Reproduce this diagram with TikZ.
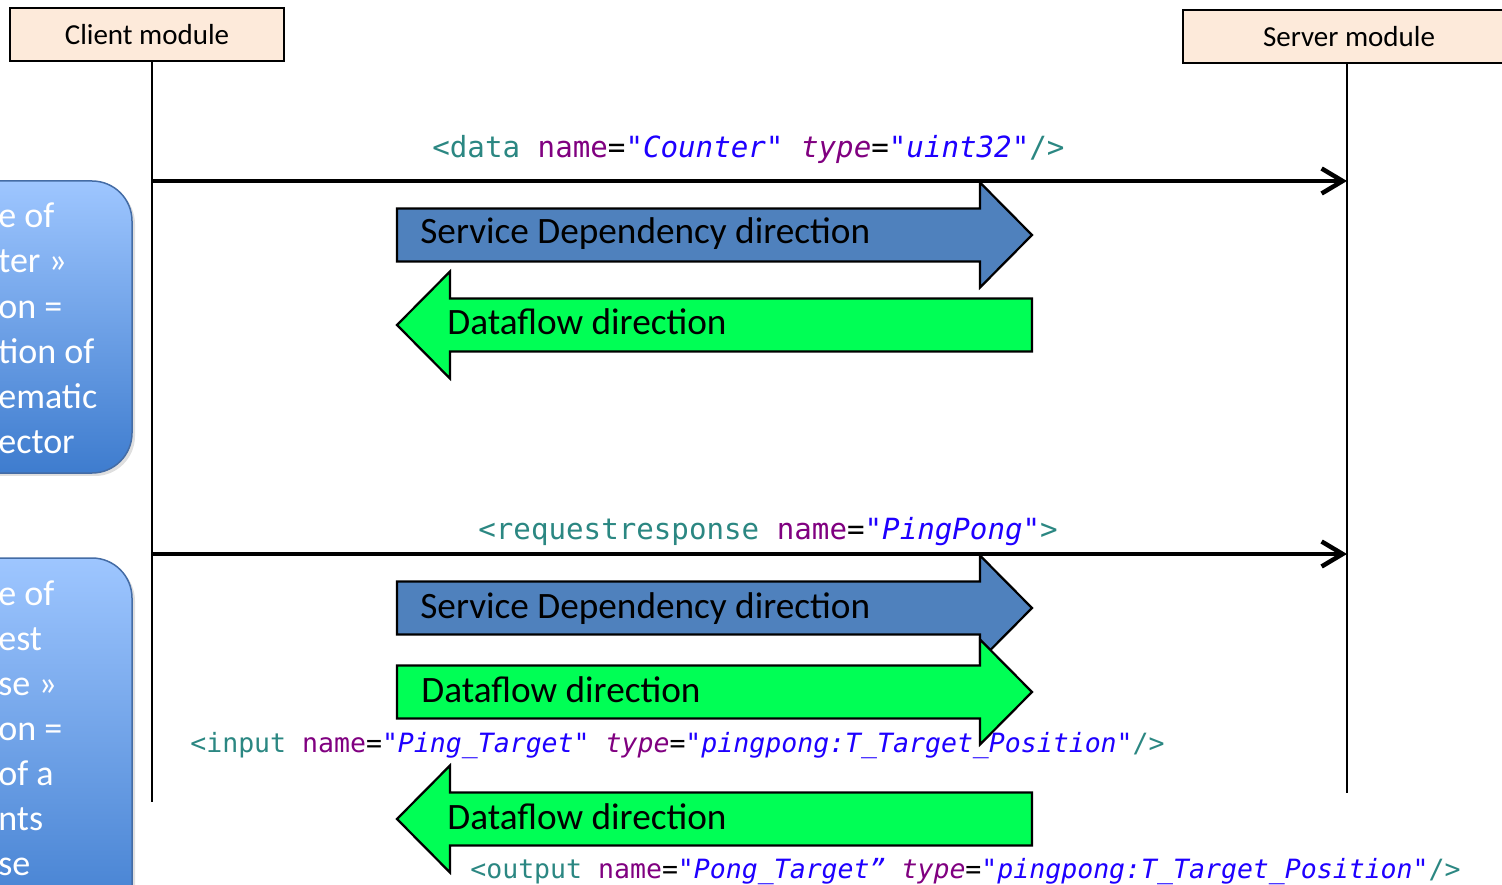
\documentclass[tikz,border=0pt]{standalone}
\usepackage{fontspec}
\setmainfont{Carlito}
\newfontfamily\xmlfont{DejaVu Sans Mono}
\usetikzlibrary{arrows.meta,shadows}

\definecolor{headfill}{RGB}{253,234,218}
\definecolor{sdblue}{RGB}{79,129,189}
\definecolor{dfgreen}{RGB}{0,255,85}
\definecolor{notetop}{RGB}{158,198,255}
\definecolor{notebot}{RGB}{62,124,206}
\definecolor{noteline}{RGB}{68,108,165}
\definecolor{xmltag}{RGB}{43,135,130}
\definecolor{xmlattr}{RGB}{128,0,128}
\definecolor{xmlval}{RGB}{30,0,255}

\newcommand\xtag[1]{\textcolor{xmltag}{#1}}
\newcommand\xattr[1]{\textcolor{xmlattr}{#1}}
\newcommand\xval[1]{\textcolor{xmlval}{\itshape #1}}

% block arrows: #1 = centre y, #2 = fill
\newcommand\rblock[2]{%
  \filldraw[blk,fill=#2] (397,#1-26.5) -- (980,#1-26.5) -- (980,#1-52.5) -- (1032,#1)
    -- (980,#1+52.5) -- (980,#1+26.5) -- (397,#1+26.5) -- cycle;}
\newcommand\lblock[2]{%
  \filldraw[blk,fill=#2] (1032,#1-26.5) -- (450,#1-26.5) -- (450,#1-53.5) -- (397,#1)
    -- (450,#1+53.5) -- (450,#1+26.5) -- (1032,#1+26.5) -- cycle;}

\begin{document}
\begin{tikzpicture}[x=0.02cm,y=-0.02cm,
  modbox/.style={draw,line width=0.04cm,fill=headfill,minimum height=1.06cm,
    inner sep=0pt,font=\fontsize{16.5}{20}\selectfont},
  life/.style={line width=0.04cm},
  msg/.style={line width=0.09cm,-{Straight Barb[length=0.42cm,width=0.5cm]}},
  note/.style={draw=noteline,line width=0.03cm,rounded corners=0.8cm,
    top color=notetop,bottom color=notebot,
    drop shadow={shadow xshift=0.06cm,shadow yshift=-0.06cm,opacity=0.25}},
  notetxt/.style={text=white,anchor=base west,inner sep=0pt,
    font=\fontsize{20.5}{24}\selectfont},
  blk/.style={draw=black,line width=0.045cm},
  lbl/.style={anchor=base west,inner sep=0pt,font=\fontsize{21.2}{25}\selectfont},
  xml/.style={anchor=base west,inner sep=0pt,font=\xmlfont\fontsize{16.6}{20}\selectfont},
  xmlsmall/.style={xml,font=\xmlfont\fontsize{15.1}{18}\selectfont}]

  \useasboundingbox (0,0) rectangle (1502,885);

  % ================= 模块框与生命线 =================
  \node[modbox,minimum width=5.48cm] (client) at (147,34.5) {Client module};
  \node[modbox,minimum width=6.64cm] (server) at (1349,36.5) {Server module};

  \coordinate (cl) at (152,802);
  \coordinate (sl) at (1347,793);
  \draw[life] (cl |- client.south) -- (cl);
  \draw[life] (sl |- server.south) -- (sl);

  % ================= 左侧说明框 =================
  \path[note] (-60,181) rectangle (132,473);
  \path[note] (-60,558) rectangle (132,940);
  \foreach \t [count=\i] in {e of,ter »,on =,tion of,ematic,ector}
    \node[notetxt] (na\i) at (-2,228+45*\i-45) {\t};
  \foreach \t [count=\i] in {e of,est,se »,on =,of a,nts,se}
    \node[notetxt] (nb\i) at (-2,605+45*\i-45) {\t};

  % ================= 消息 1: data =================
  \coordinate (m1a) at (152,181);
  \coordinate (m1b) at (1347,181);
  \draw[msg] (m1a) -- (m1b);
  \node[xml] (datatag) at (432,158)
    {\xtag{<data} \xattr{name}=\xval{"Counter"} \xattr{\itshape type}=\xval{"uint32"}\xtag{/>}};

  \rblock{235}{sdblue}
  \node[lbl] (sd1) at (420,244) {Service Dependency direction};
  \lblock{325}{dfgreen}
  \node[lbl] (df1) at (447,335) {Dataflow direction};

  % ================= 消息 2: requestresponse =================
  \coordinate (m2a) at (152,554);
  \coordinate (m2b) at (1347,554);
  \draw[msg] (m2a) -- (m2b);
  \node[xml] (rrtag) at (478,539)
    {\xtag{<requestresponse} \xattr{name}=\xval{"PingPong"}\xtag{>}};

  \rblock{608}{sdblue}
  \node[lbl] (sd2) at (420,618) {Service Dependency direction};
  \rblock{692}{dfgreen}
  \node[lbl] (df2) at (421,702) {Dataflow direction};
  \node[xmlsmall] (intag) at (190,752)
    {\xtag{<input} \xattr{name}=\xval{"Ping\_Target"} \xattr{\itshape type}=\xval{"pingpong:T\_Target\_Position"}\xtag{/>}};

  \lblock{819}{dfgreen}
  \node[lbl] (df3) at (447,829) {Dataflow direction};
  \node[xmlsmall] (outtag) at (470,878)
    {\xtag{<output} \xattr{name}=\xval{"Pong\_Target”} \xattr{\itshape type}=\xval{"pingpong:T\_Target\_Position"}\xtag{/>}};

\end{tikzpicture}
\end{document}
